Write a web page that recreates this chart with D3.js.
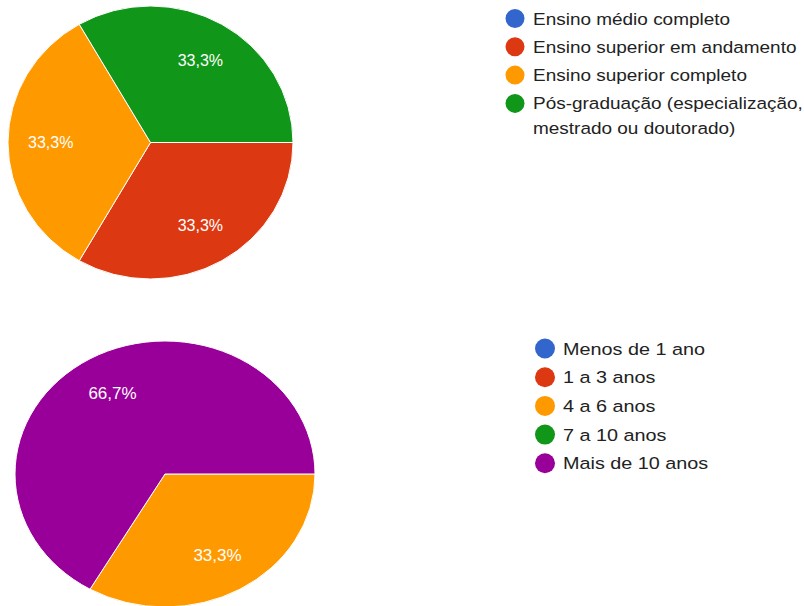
<!DOCTYPE html>
<html>
<head>
<meta charset="utf-8">
<script src="https://cdn.jsdelivr.net/npm/d3@7"></script>
<style>
  body { margin: 0; background: #fff; }
  svg { display: block; font-family: "Liberation Sans", Arial, sans-serif; }
</style>
</head>
<body>
<div id="chart"></div>
<script>
// Data
const educCategories = ["Ensino médio completo", "Ensino superior em andamento", "Ensino superior completo", "Pós-graduação (especialização, mestrado ou doutorado)"];
const educValues = [0, 1, 1, 1];
const expCategories = ["Menos de 1 ano", "1 a 3 anos", "4 a 6 anos", "7 a 10 anos", "Mais de 10 anos"];
const expValues = [0, 0, 1, 0, 2];
const palette = ["#3366cc", "#dc3912", "#ff9900", "#109618", "#990099"];

const width = 804, height = 606;
const svg = d3.select("#chart").append("svg")
  .attr("width", width)
  .attr("height", height);

const fmt = v => v.toFixed(1).replace(".", ",") + "%";

function drawPie(opts) {
  const {cats, vals, cx, cy, rx, ry, labelFont, legend} = opts;
  const total = d3.sum(vals);
  const data = cats.map((c, i) => ({cat: c, value: vals[i], color: palette[i]}));
  const pie = d3.pie().sort(null).value(d => d.value)
    .startAngle(Math.PI / 2).endAngle(Math.PI / 2 + 2 * Math.PI);
  const arcs = pie(data);
  const r = 100;
  const arc = d3.arc().innerRadius(0).outerRadius(r);
  const labelArc = d3.arc().innerRadius(r * 0.7).outerRadius(r * 0.7);

  const g = svg.append("g")
    .attr("transform", `translate(${cx},${cy}) scale(${rx / r},${ry / r})`);
  g.selectAll("path")
    .data(arcs.filter(d => d.data.value > 0))
    .enter().append("path")
    .attr("d", arc)
    .attr("fill", d => d.data.color)
    .attr("stroke", "#fff")
    .attr("stroke-width", 1)
    .attr("vector-effect", "non-scaling-stroke");

  // slice labels
  svg.selectAll(null)
    .data(arcs.filter(d => d.data.value > 0))
    .enter().append("text")
    .attr("x", d => cx + labelArc.centroid(d)[0] * rx / r)
    .attr("y", d => cy + labelArc.centroid(d)[1] * ry / r)
    .attr("dy", "0.36em")
    .attr("text-anchor", "middle")
    .attr("fill", "#fff")
    .attr("font-size", labelFont)
    .text(d => fmt(d.data.value / total * 100));

  // legend
  const lg = svg.append("g");
  let row = 0;
  legend.lines.forEach((lines, i) => {
    const y = legend.y + row * legend.step;
    lg.append("circle")
      .attr("cx", legend.x)
      .attr("cy", y)
      .attr("r", legend.r)
      .attr("fill", palette[i]);
    lines.forEach((ln, j) => {
      lg.append("g")
        .attr("transform", `translate(${legend.x + legend.dx},${y + 6 + j * legend.wrap}) scale(${legend.sx},1)`)
        .append("text")
        .attr("font-size", legend.font)
        .attr("fill", "#222")
        .text(ln);
    });
    row += 1;
    if (lines.length > 1) row += (lines.length - 1) * legend.wrap / legend.step;
  });
}

drawPie({
  cats: educCategories, vals: educValues,
  cx: 150.5, cy: 142.5, rx: 142.5, ry: 136.5, labelFont: 16,
  legend: {
    x: 515, y: 18.5, step: 28.3, wrap: 25, r: 9.5, dx: 18, font: 16.5, sx: 1.15,
    lines: [["Ensino médio completo"], ["Ensino superior em andamento"], ["Ensino superior completo"],
            ["Pós-graduação (especialização,", "mestrado ou doutorado)"]]
  }
});

drawPie({
  cats: expCategories, vals: expValues,
  cx: 165, cy: 474, rx: 150, ry: 133, labelFont: 17,
  legend: {
    x: 545, y: 348.5, step: 28.7, wrap: 25, r: 10, dx: 18, font: 17, sx: 1.165,
    lines: expCategories.map(c => [c])
  }
});
</script>
</body>
</html>
